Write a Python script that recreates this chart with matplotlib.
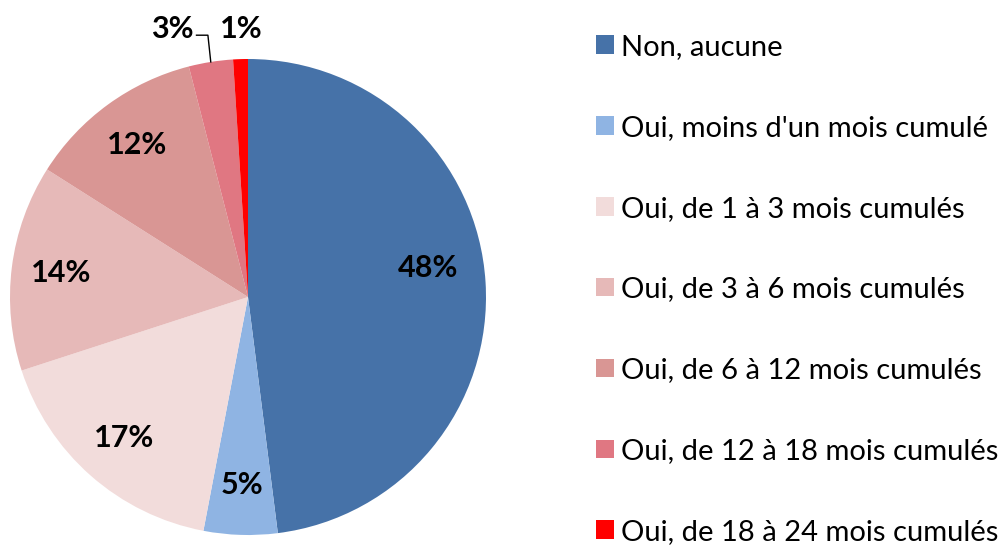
import matplotlib.pyplot as plt
import numpy as np
from matplotlib.patches import Patch

plt.rcParams["font.family"] = ["Lato", "DejaVu Sans"]

categories = [
    "Non, aucune",
    "Oui, moins d'un mois cumulé",
    "Oui, de 1 à 3 mois cumulés",
    "Oui, de 3 à 6 mois cumulés",
    "Oui, de 6 à 12 mois cumulés",
    "Oui, de 12 à 18 mois cumulés",
    "Oui, de 18 à 24 mois cumulés",
]
shares = [48, 5, 17, 14, 12, 3, 1]
colors = ["#4672A8", "#8FB4E3", "#F2DCDB", "#E6B9B8", "#D99694", "#E07782", "#FF0000"]

fig = plt.figure(figsize=(10.07, 5.46), dpi=100)
ax = fig.add_axes([10 / 1007, 11 / 546, 476 / 1007, 476 / 546])

wedges, texts, pcts = ax.pie(
    shares,
    colors=colors,
    startangle=90,
    counterclock=False,
    radius=1,
    autopct=lambda p: "%d%%" % round(p),
    pctdistance=0.79,
    wedgeprops=dict(linewidth=0),
    textprops=dict(fontsize=22, fontweight="bold", color="black"),
)
ax.set_xlim(-1, 1)
ax.set_ylim(-1, 1)
ax.set_aspect("equal")
# the big slice label sits a bit higher in the original
pcts[0].set_position((0.755, 0.12))

# small slices: labels above the pie
t3, t1 = pcts[5], pcts[6]
w3 = wedges[5]
mid3 = np.deg2rad((w3.theta1 + w3.theta2) / 2)
ex, ey = np.cos(mid3), np.sin(mid3)
t3.set_position((-0.32, 1.125))
t1.set_position((-0.03, 1.125))
ax.plot([ex, ex - 0.012, ex - 0.06], [ey, 1.1, 1.1], color="black", lw=1, clip_on=False)

handles = [Patch(facecolor=c, edgecolor="none") for c in colors]
fig.legend(
    handles,
    categories,
    loc="upper left",
    bbox_to_anchor=(596 / 1007, 1 - 34 / 546),
    frameon=False,
    fontsize=21,
    handlelength=0.6,
    handleheight=0.6,
    handletextpad=0.27,
    labelspacing=1.88,
    borderaxespad=0,
    borderpad=0,
)

fig.savefig("out.png", dpi=100)
